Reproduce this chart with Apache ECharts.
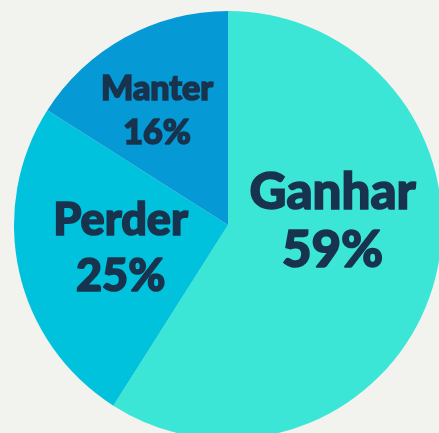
<!DOCTYPE html>
<html>
<head>
    <meta charset="UTF-8">
    <title>Ganhar / Perder / Manter</title>
    <script src="https://cdn.jsdelivr.net/npm/echarts@6/dist/echarts.min.js"></script>
    <style>
        html, body { margin: 0; padding: 0; background: #f2f2ee; }
    </style>
</head>
<body>
<div id="main" style="width: 439px;height:433px;"></div>

<script type="text/javascript">
    // dados
    var categorias = ['Ganhar', 'Perder', 'Manter'];
    var valores = [59, 25, 16];
    var cores = ['#3ce6d6', '#00c2dd', '#0599d6'];

    // estilo de rótulo por fatia
    var tamanhos = [51, 45, 34];
    var alturas = [58, 56, 44];
    var deslocamentos = [[-1, -34], [0, -1], [-18, -18]];

    var myChart = echarts.init(document.getElementById('main'));

    var dados = categorias.map(function (nome, i) {
        return {
            name: nome,
            value: valores[i],
            itemStyle: { color: cores[i] },
            label: {
                fontSize: tamanhos[i],
                lineHeight: alturas[i],
                offset: deslocamentos[i]
            }
        };
    });

    var option = {
        backgroundColor: '#f2f2ee',
        animation: false,
        series: [
            {
                type: 'pie',
                center: [228, 225],
                radius: 214,
                startAngle: 90,
                clockwise: true,
                data: dados,
                label: {
                    show: true,
                    position: 'inside',
                    formatter: '{b}\n{c}%',
                    color: '#17334d',
                    textBorderColor: '#17334d',
                    textBorderWidth: 1.6,
                    fontFamily: 'Lato',
                    fontWeight: 900,
                    align: 'center'
                },
                labelLine: { show: false },
                itemStyle: { borderWidth: 0 },
                emphasis: { disabled: true }
            }
        ]
    };

    myChart.setOption(option);
</script>
</body>
</html>
